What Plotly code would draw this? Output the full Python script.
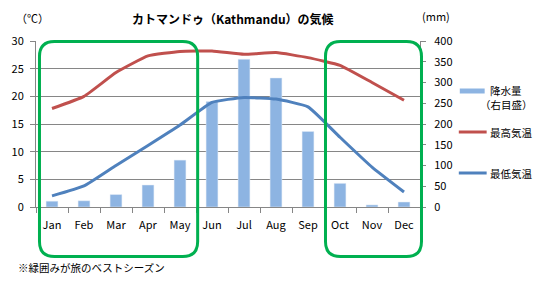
import plotly.graph_objects as go

months = ["Jan", "Feb", "Mar", "Apr", "May", "Jun", "Jul", "Aug", "Sep", "Oct", "Nov", "Dec"]
tmax = [17.8, 20.0, 24.3, 27.3, 28.1, 28.2, 27.6, 27.9, 27.0, 25.6, 22.5, 19.3]
tmin = [2.0, 3.8, 7.5, 11.1, 14.8, 18.9, 19.8, 19.5, 18.1, 12.6, 7.2, 2.7]
precip = [14, 15, 30, 53, 113, 254, 356, 311, 182, 57, 5, 12]

W, H = 539, 290
ML, MR, MT, MB = 34, 119, 41, 83
PW, PH = W - ML - MR, H - MT - MB

C_BAR = "rgb(141,180,226)"
C_RED = "rgb(192,80,77)"
C_BLUE = "rgb(79,129,189)"
C_GRID = "rgb(134,134,134)"
C_GREEN = "rgb(0,176,80)"
JP = "Noto Sans CJK JP"


def px(x):
    return (x - ML) / PW


def py(y):
    return (MT + PH - y) / PH


def rrect(x0, y0, x1, y1, r=15):
    X0, X1 = px(x0), px(x1)
    Y0, Y1 = py(y1), py(y0)  # bottom, top in paper
    rx, ry = r / PW, r / PH
    return (f"M{X0+rx},{Y0} L{X1-rx},{Y0} Q{X1},{Y0} {X1},{Y0+ry} "
            f"L{X1},{Y1-ry} Q{X1},{Y1} {X1-rx},{Y1} L{X0+rx},{Y1} "
            f"Q{X0},{Y1} {X0},{Y1-ry} L{X0},{Y0+ry} Q{X0},{Y0} {X0+rx},{Y0} Z")


fig = go.Figure()
fig.add_trace(go.Bar(x=months, y=precip, marker_color=C_BAR, name="降水量（右目盛）",
                     yaxis="y", showlegend=False))
fig.add_trace(go.Scatter(x=months, y=tmax, mode="lines", name="最高気温", yaxis="y2",
                         line=dict(color=C_RED, width=3, shape="spline", smoothing=0.4),
                         showlegend=False))
fig.add_trace(go.Scatter(x=months, y=tmin, mode="lines", name="最低気温", yaxis="y2",
                         line=dict(color=C_BLUE, width=3, shape="spline", smoothing=0.4),
                         showlegend=False))

tickfont = dict(family=JP, size=11, color="#000")

shapes = [
    dict(type="path", xref="paper", yref="paper", path=rrect(37.5, 41.5, 196.5, 256.5),
         line=dict(color=C_GREEN, width=3), layer="above"),
    dict(type="path", xref="paper", yref="paper", path=rrect(325, 41.5, 421.5, 256.5),
         line=dict(color=C_GREEN, width=3), layer="above"),
    # legend swatches
    dict(type="rect", xref="paper", yref="paper", x0=px(460), x1=px(485), y0=py(93.5), y1=py(88.5),
         fillcolor=C_BAR, line=dict(width=0)),
    dict(type="line", xref="paper", yref="paper", x0=px(459), x1=px(487), y0=py(132), y1=py(132),
         line=dict(color=C_RED, width=3)),
    dict(type="line", xref="paper", yref="paper", x0=px(459), x1=px(487), y0=py(173), y1=py(173),
         line=dict(color=C_BLUE, width=3)),
]


def ann(text, x, y, size=10.5, anchor="left", bold=False):
    return dict(text=f"<b>{text}</b>" if bold else text, x=px(x), y=py(y), xref="paper", yref="paper",
                xanchor=anchor, yanchor="middle", showarrow=False,
                font=dict(family=JP, size=size, color="#000"))


annotations = [
    ann("カトマンドゥ（Kathmandu）の気候", 232, 19, size=12, anchor="center", bold=True),
    ann("（℃）", 30, 18, size=11, anchor="center"),
    ann("(mm)", 436, 16, size=11, anchor="center"),
    ann("降水量", 488, 90.5),
    ann("（右目盛）", 478, 104),
    ann("最高気温", 488, 132),
    ann("最低気温", 488, 173),
    ann("※緑囲みが旅のベストシーズン", 14, 267, size=10.5),
]

fig.update_layout(
    width=W, height=H,
    margin=dict(l=ML, r=MR, t=MT, b=MB, pad=0),
    paper_bgcolor="white", plot_bgcolor="white",
    bargap=0.63,
    xaxis=dict(type="category", showline=True, linecolor=C_GRID, linewidth=1,
               ticks="outside", tickson="boundaries", ticklen=5, tickcolor=C_GRID,
               tickfont=tickfont, showgrid=False, ticklabelstandoff=8),
    yaxis=dict(side="right", range=[0, 400], dtick=50, showgrid=False, zeroline=False,
               showline=True, linecolor=C_GRID, ticks="outside", ticklen=5, tickcolor=C_GRID,
               tickfont=tickfont, ticklabelstandoff=6),
    yaxis2=dict(overlaying="y", side="left", range=[0, 30], dtick=5, showgrid=True,
                gridcolor=C_GRID, gridwidth=1, zeroline=False, showline=True, linecolor=C_GRID,
                ticks="outside", ticklen=5, tickcolor=C_GRID, tickfont=tickfont,
                ticklabelstandoff=4),
    shapes=shapes,
    annotations=annotations,
    showlegend=False,
)

fig.write_html("out.html")
